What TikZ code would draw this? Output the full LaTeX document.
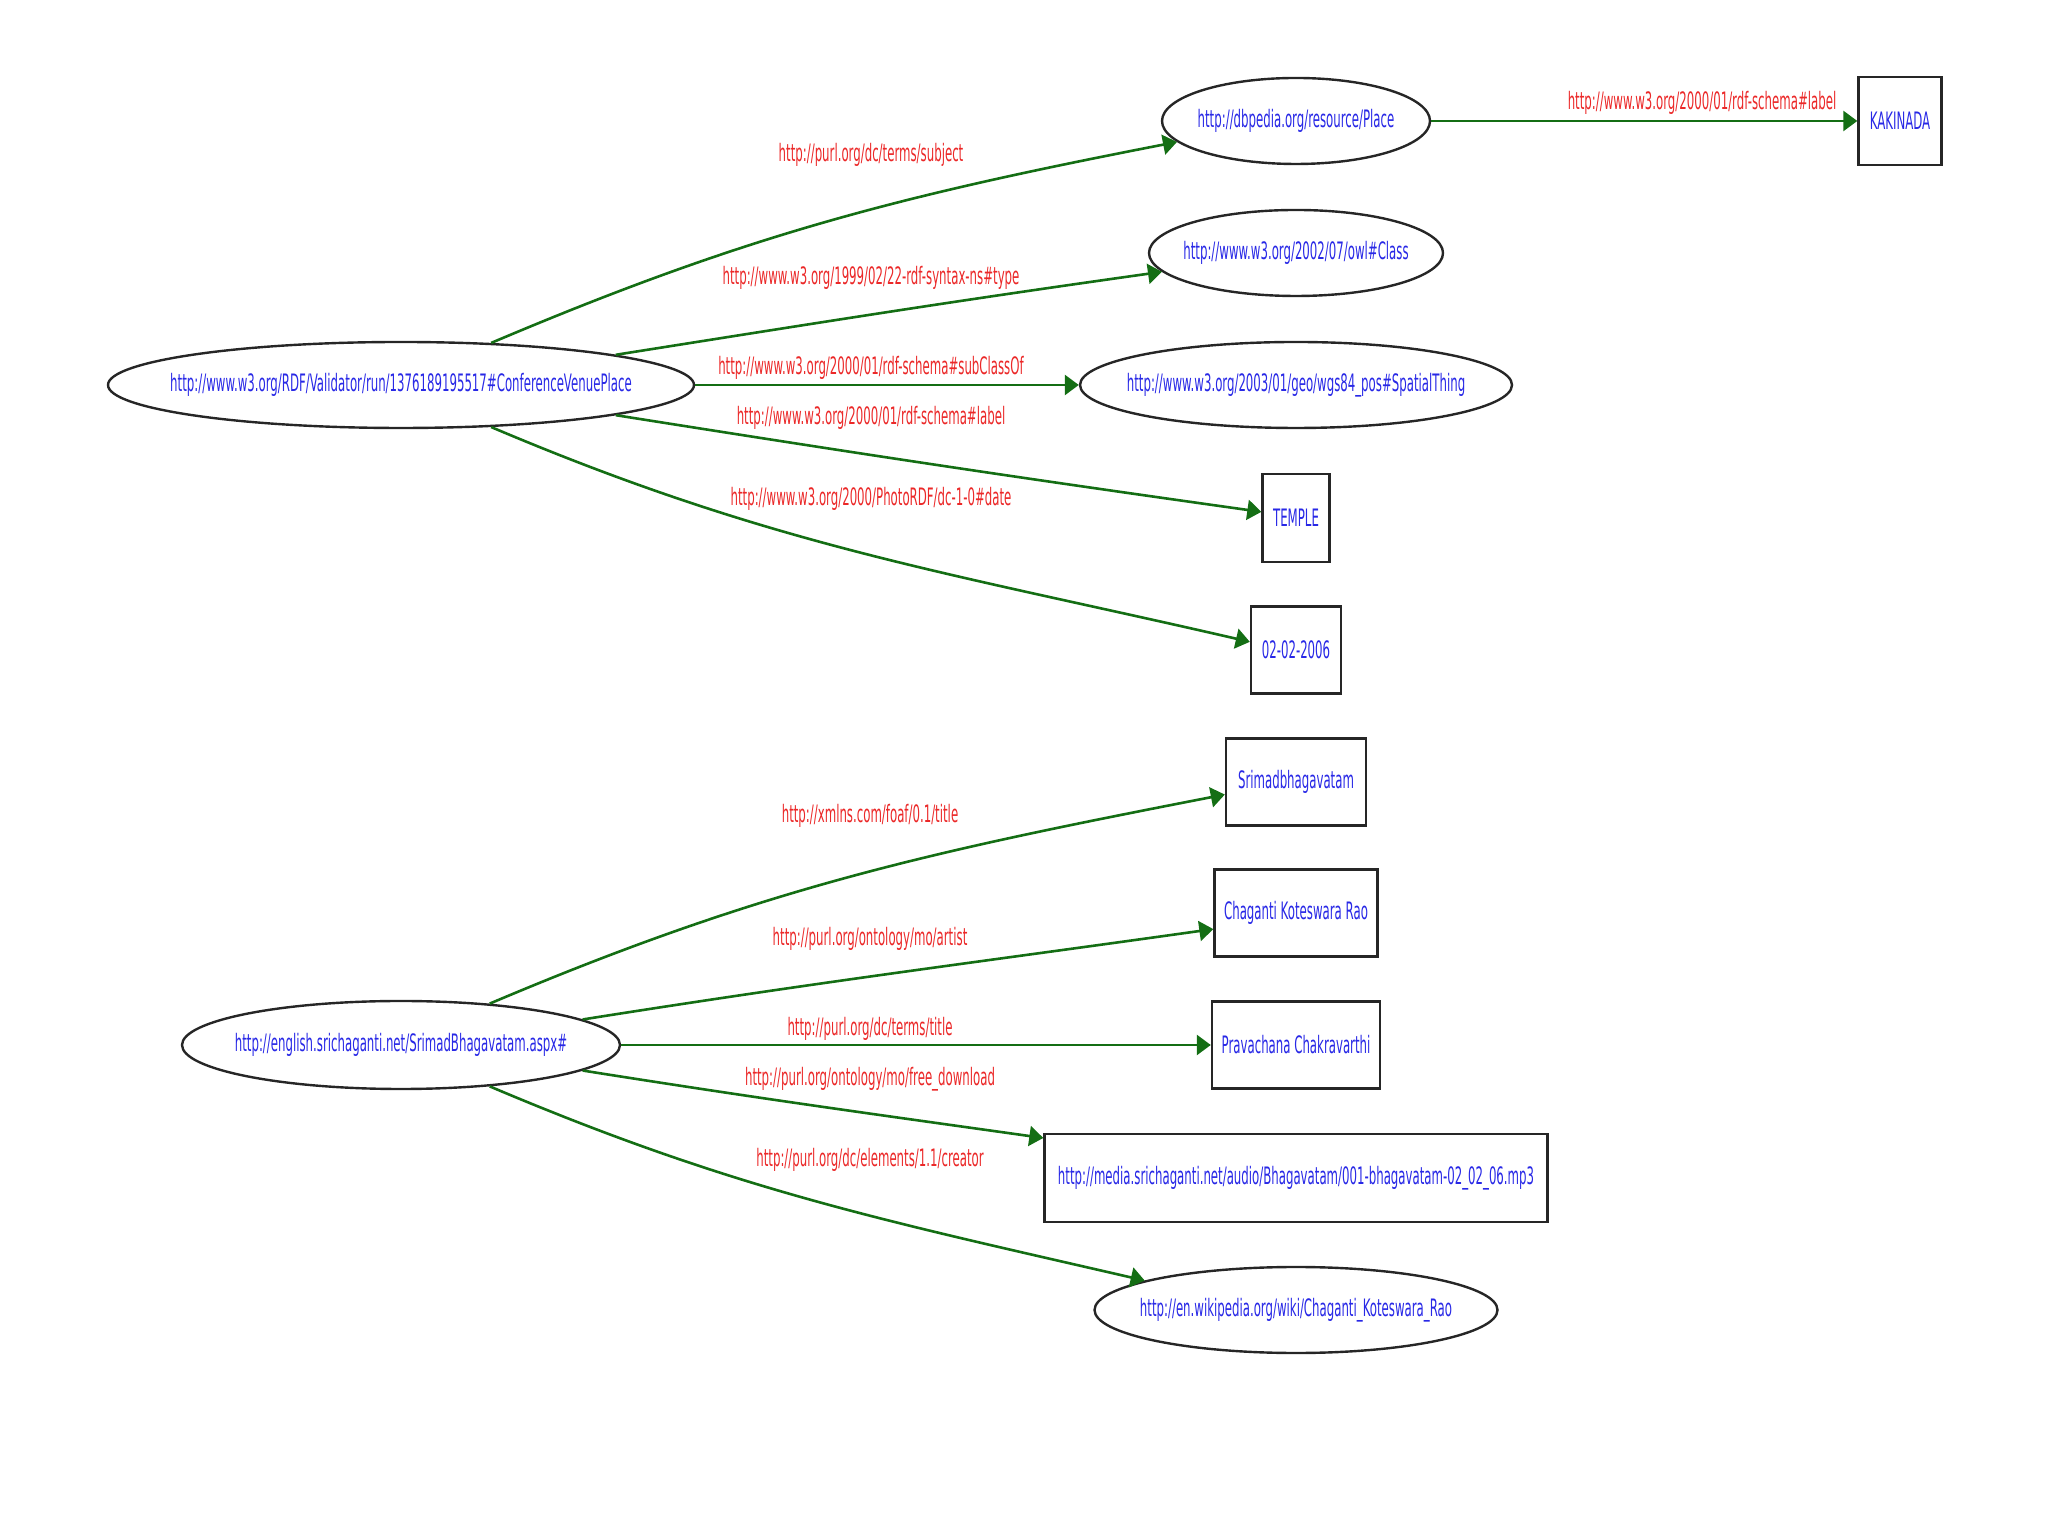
\documentclass[tikz,border=0pt]{standalone}
\usepackage{fontspec}
\setmainfont{DejaVu Sans}[FakeStretch=0.49]
\usetikzlibrary{shapes.geometric,arrows.meta}
\definecolor{urlblue}{RGB}{40,40,230}
\definecolor{predred}{RGB}{235,40,40}
\definecolor{edgegreen}{RGB}{20,110,20}

\begin{document}
\begin{tikzpicture}[x=0.5pt, y=0.5pt, >={Triangle[length=7pt,width=10pt]},
    res/.style={ellipse, draw=black!85, line width=1.2pt, inner xsep=-300pt, inner ysep=-30pt, text=urlblue, font=\fontsize{12}{14}\selectfont, minimum height=43pt},
    lit/.style={rectangle, draw=black!85, line width=1.2pt, inner sep=0pt, text=urlblue, font=\fontsize{12}{14}\selectfont, minimum height=44pt},
    pred/.style={text=predred, font=\fontsize{12}{14}\selectfont, inner sep=0pt},
    edge/.style={->, draw=edgegreen, line width=1.3pt}]
    \useasboundingbox (0,0) rectangle (2048,1536);

    % 1. Hai tài nguyên gốc
    \node[res, minimum width=293pt] (venue) at (401,1151) {http://www.w3.org/RDF/Validator/run/1376189195517\#ConferenceVenuePlace};
    \node[res, minimum width=219pt, minimum height=44pt] (bhag) at (401,491) {http://english.srichaganti.net/SrimadBhagavatam.aspx\#};

    % 2. Các nút đích phía trên
    \node[res, minimum width=134pt] (place) at (1296,1415) {http://dbpedia.org/resource/Place};
    \node[res, minimum width=147pt] (owlclass) at (1296,1283) {http://www.w3.org/2002/07/owl\#Class};
    \node[res, minimum width=216pt] (spatial) at (1296,1151) {http://www.w3.org/2003/01/geo/wgs84\_pos\#SpatialThing};
    \node[lit, minimum width=33.5pt] (temple) at (1296,1018) {TEMPLE};
    \node[lit, minimum width=45pt, minimum height=43.5pt] (datelit) at (1296,886) {02-02-2006};
    \node[lit, minimum width=41.5pt] (kakinada) at (1900,1415) {KAKINADA};

    % 3. Các nút đích phía dưới
    \node[lit, minimum width=70pt, minimum height=43.5pt] (srimad) at (1296,754) {Srimadbhagavatam};
    \node[lit, minimum width=81.5pt, minimum height=43.5pt] (chaganti) at (1296,623) {Chaganti Koteswara Rao};
    \node[lit, minimum width=84pt, minimum height=43.5pt] (pravachana) at (1296,491) {Pravachana Chakravarthi};
    \node[lit, minimum width=251.5pt] (mp3) at (1296,358) {http://media.srichaganti.net/audio/Bhagavatam/001-bhagavatam-02\_02\_06.mp3};
    \node[res, minimum width=201.5pt] (wiki) at (1296,226) {http://en.wikipedia.org/wiki/Chaganti\_Koteswara\_Rao};

    % 4. Các cung
    \draw[edge] (venue.25) to[out=23, in=191] (place.190);
    \draw[edge] (venue.8) to[out=9, in=188] (owlclass.188);
    \draw[edge] (venue.east) -- (spatial.west);
    \draw[edge] (venue.-8) to[out=-9, in=172] (temple.170);
    \draw[edge] (venue.-25) to[out=-23, in=167] (datelit.170);
    \draw[edge] (place.east) -- (kakinada.west);

    \draw[edge] (bhag.25) to[out=23, in=191] (srimad.190);
    \draw[edge] (bhag.8) to[out=9, in=188] (chaganti.191);
    \draw[edge] (bhag.east) -- (pravachana.west);
    \draw[edge] (bhag.-8) to[out=-9, in=172] (mp3.171);
    \draw[edge] (bhag.-25) to[out=-23, in=167] (wiki.169);

    % 5. Nhãn vị từ
    \node[pred] (psubject) at (871,1381) {http://purl.org/dc/terms/subject};
    \node[pred] (ptype) at (871,1258) {http://www.w3.org/1999/02/22-rdf-syntax-ns\#type};
    \node[pred] (psubclass) at (871,1168) {http://www.w3.org/2000/01/rdf-schema\#subClassOf};
    \node[pred] (plabel) at (871,1118) {http://www.w3.org/2000/01/rdf-schema\#label};
    \node[pred] (pdate) at (871,1037) {http://www.w3.org/2000/PhotoRDF/dc-1-0\#date};
    \node[pred] (pkaki) at (1702,1433) {http://www.w3.org/2000/01/rdf-schema\#label};

    \node[pred] (pfoaf) at (870,720) {http://xmlns.com/foaf/0.1/title};
    \node[pred] (partist) at (870,597) {http://purl.org/ontology/mo/artist};
    \node[pred] (ptitle) at (870,507) {http://purl.org/dc/terms/title};
    \node[pred] (pdownload) at (870,457) {http://purl.org/ontology/mo/free\_download};
    \node[pred] (pcreator) at (870,376) {http://purl.org/dc/elements/1.1/creator};
\end{tikzpicture}
\end{document}
